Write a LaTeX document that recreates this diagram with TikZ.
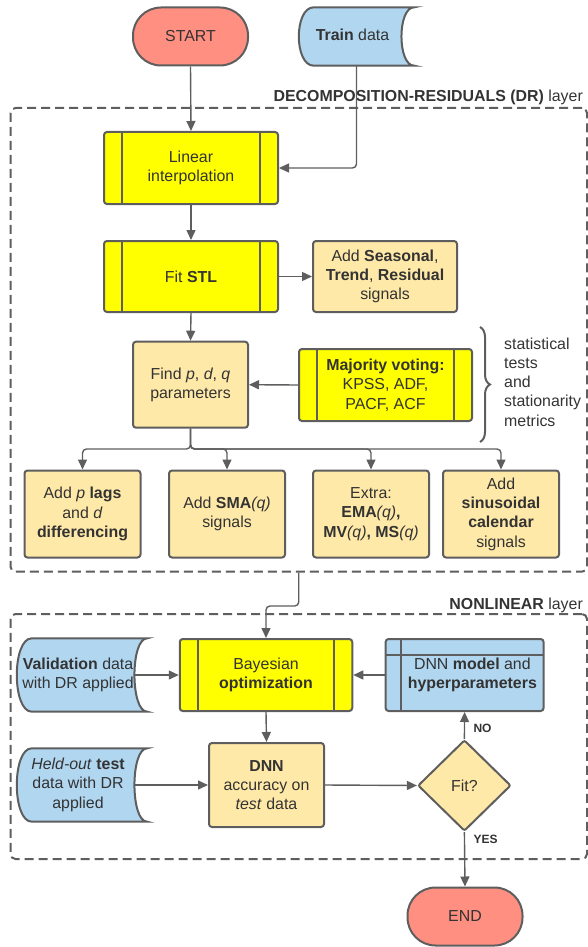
\documentclass[tikz,border=0pt]{standalone}
\usepackage{fontspec}
\setmainfont{Liberation Sans}
\usetikzlibrary{arrows.meta,shapes.geometric,decorations.pathreplacing,backgrounds}
\definecolor{lucidred}{HTML}{FF8F80}
\definecolor{lucidblue}{HTML}{B1D6F0}
\definecolor{lucidyellow}{HTML}{FFFF00}
\definecolor{lucidtan}{HTML}{FFE9A8}
\definecolor{lucidline}{HTML}{5E5E5E}
\definecolor{lucidtext}{HTML}{333333}
\def\datashape#1{\draw[dataedge] ([xshift=15pt]#1.north west) -- (#1.north east) .. controls ([xshift=-17pt]#1.north east) and ([xshift=-17pt]#1.south east) .. (#1.south east) -- ([xshift=15pt]#1.south west) .. controls ([xshift=-5pt]#1.south west) and ([xshift=-5pt]#1.north west) .. ([xshift=15pt]#1.north west) -- cycle;}
\def\datatext#1{\hspace*{-8pt}\begin{tabular}{@{}c@{}}#1\end{tabular}}
\tikzset{
	base/.style={align=center, text=lucidtext, font=\fontsize{15.9}{19.3}\selectfont, line width=2pt, draw=lucidline},
	terminal/.style={base, fill=lucidred, rounded corners=28pt, minimum width=115pt, minimum height=58pt},
	procbar/.style={base, fill=lucidyellow, rounded corners=3pt, minimum height=72pt,
		path picture={\draw[line width=2pt, lucidline] ([xshift=18pt]path picture bounding box.north west) -- ([xshift=18pt]path picture bounding box.south west) ([xshift=-18pt]path picture bounding box.north east) -- ([xshift=-18pt]path picture bounding box.south east);}},
	actionbox/.style={base, fill=lucidtan, rounded corners=3pt},
	storebox/.style={base, fill=lucidblue, rounded corners=3pt,
		path picture={\draw[line width=2pt, lucidline] ([yshift=-16pt]path picture bounding box.north west) -- ([yshift=-16pt]path picture bounding box.north east) ([xshift=15.5pt]path picture bounding box.north west) -- ([xshift=15.5pt]path picture bounding box.south west);}},
	datanode/.style={align=center, text=lucidtext, font=\fontsize{15.9}{19.3}\selectfont},
	dataedge/.style={line width=2pt, draw=lucidline, fill=lucidblue},
	decision/.style={base, diamond, fill=lucidtan, minimum width=93pt, minimum height=91pt, inner sep=0pt, rounded corners=2pt},
	layerbox/.style={draw=lucidline, line width=2pt, dash pattern=on 9pt off 5pt, rounded corners=5pt, inner sep=0pt},
	layertitle/.style={anchor=east, inner sep=0pt, text=lucidtext, font=\fontsize{15.9}{19.3}\selectfont},
	link/.style={draw=lucidline, line width=1.4pt, -{Triangle[length=10pt,width=9pt]}, rounded corners=4pt},
	answer/.style={text=lucidtext, font=\fontsize{12}{14}\selectfont\bfseries}
}
\begin{document}
\begin{tikzpicture}[x=1pt, y=1pt]
	%%%%% START %%%%%
	\useasboundingbox (0,0) rectangle (588,-947);
	
	\node[terminal] (start) at (190.5,-36.5) {START};
	\node[datanode, minimum width=115pt, minimum height=58pt] (train) at (356.5,-36.5) {\datatext{\textbf{Train} data}};
	
	% decomposition-residuals layer
	\node[layerbox, minimum width=576.5pt, minimum height=463.7pt] (drlayer) at (298.75,-339.85) {};
	\node[layertitle] (drtitle) at (583,-97) {\textbf{DECOMPOSITION-RESIDUALS (DR)} layer};
	
	\node[procbar, minimum width=174pt] (interp) at (191,-168) {Linear\\interpolation};
	\node[procbar, minimum width=174pt, minimum height=71pt] (stl) at (191,-276.5) {Fit \textbf{STL}};
	\node[actionbox, minimum width=144pt, minimum height=71pt] (seasonal) at (385,-276.5) {Add \textbf{Seasonal},\\\textbf{Trend}, \textbf{Residual}\\signals};
	\node[actionbox, minimum width=115pt, minimum height=86pt] (findpdq) at (190.5,-384.7) {Find \textit{p}, \textit{d}, \textit{q}\\parameters};
	\node[procbar, minimum width=173pt] (voting) at (385.5,-385) {\textbf{Majority voting:}\\KPSS, ADF,\\PACF, ACF};
	\node[datanode, align=left, anchor=west, inner sep=0pt] (metrics) at (504,-382) {statistical\\tests\\and\\stationarity\\metrics};
	\draw[lucidline, line width=2pt, decorate, decoration={brace, amplitude=10pt}] (480,-327) -- (480,-442);
	
	\node[actionbox, minimum width=116pt, minimum height=87pt] (lags) at (82.5,-514) {Add \textit{p} \textbf{lags}\\and \textit{d}\\\textbf{differencing}};
	\node[actionbox, minimum width=116pt, minimum height=87pt] (sma) at (227,-514) {Add \textbf{SMA}\textit{(q)}\\signals};
	\node[actionbox, minimum width=116pt, minimum height=87pt] (extra) at (371,-514) {Extra:\\\textbf{EMA}\textit{(q)}\textbf{,}\\\textbf{MV}\textit{(q)}\textbf{, MS}\textit{(q)}};
	\node[actionbox, minimum width=116pt, minimum height=87pt] (calendar) at (501,-514) {Add\\\textbf{sinusoidal}\\\textbf{calendar}\\signals};
	
	% nonlinear layer
	\node[layerbox, minimum width=576.5pt, minimum height=245pt] (nllayer) at (298.75,-736.5) {};
	\node[layertitle] (nltitle) at (583,-605) {\textbf{NONLINEAR} layer};
	
	\node[datanode, minimum width=130pt, minimum height=73pt] (validation) at (82,-675) {\datatext{\textbf{Validation} data\\with DR applied}};
	\node[procbar, minimum width=172.5pt] (bayes) at (266,-675) {Bayesian\\\textbf{optimization}};
	\node[storebox, minimum width=158pt, minimum height=72pt] (model) at (464.6,-675) {\hspace*{15.5pt}\raisebox{-5pt}{\begin{tabular}{@{}c@{}}DNN \textbf{model} and\\\textbf{hyperparameters}\end{tabular}}};
	\node[datanode, minimum width=130pt, minimum height=73pt] (heldout) at (82,-785) {\datatext{\textit{Held-out} \textbf{test}\\data with DR\\applied}};
	\node[actionbox, minimum width=115pt, minimum height=84pt] (accuracy) at (266.5,-785) {\textbf{DNN}\\accuracy on\\\textit{test} data};
	\node[decision] (fit) at (464.4,-785.5) {Fit?};
	\node[terminal] (end) at (465,-916.5) {END};
	
	\begin{scope}[on background layer]
		\datashape{train}
		\datashape{validation}
		\datashape{heldout}
	\end{scope}
	
	% connectors
	\draw[link] (start.south) -- (interp.north);
	\draw[link] (train.south) |- (interp.east);
	\draw[link] (interp.south) -- (stl.north);
	\draw[link] (stl.east) -- (seasonal.west);
	\draw[link] (stl.south) -- (findpdq.north);
	\draw[link] (voting.west) -- (findpdq.east);
	\draw[link] (findpdq.south) -- ++(0,-20.3) -| (lags.north);
	\draw[link] (findpdq.south) -- ++(0,-20.3) -| (sma.north);
	\draw[link] (findpdq.south) -- ++(0,-20.3) -| (extra.north);
	\draw[link] (findpdq.south) -- ++(0,-20.3) -| (calendar.north);
	\draw[link] (drlayer.south) -- ++(0,-33.3) -| (bayes.north);
	\draw[link] ([xshift=-13pt]validation.east) -- (bayes.west);
	\draw[link] (model.west) -- (bayes.east);
	\draw[link] (bayes.south) -- (accuracy.north);
	\draw[link] ([xshift=-13pt]heldout.east) -- (accuracy.west);
	\draw[link] (accuracy.east) -- (fit.west);
	\draw[link] (fit.north) -- node[answer, pos=0.4, right=5pt] {NO} (model.south);
	\draw[link] (fit.south) -- node[answer, pos=0.13, right=5pt] {YES} (end.north);
	
	%%%%% END %%%%%
\end{tikzpicture}
\end{document}
